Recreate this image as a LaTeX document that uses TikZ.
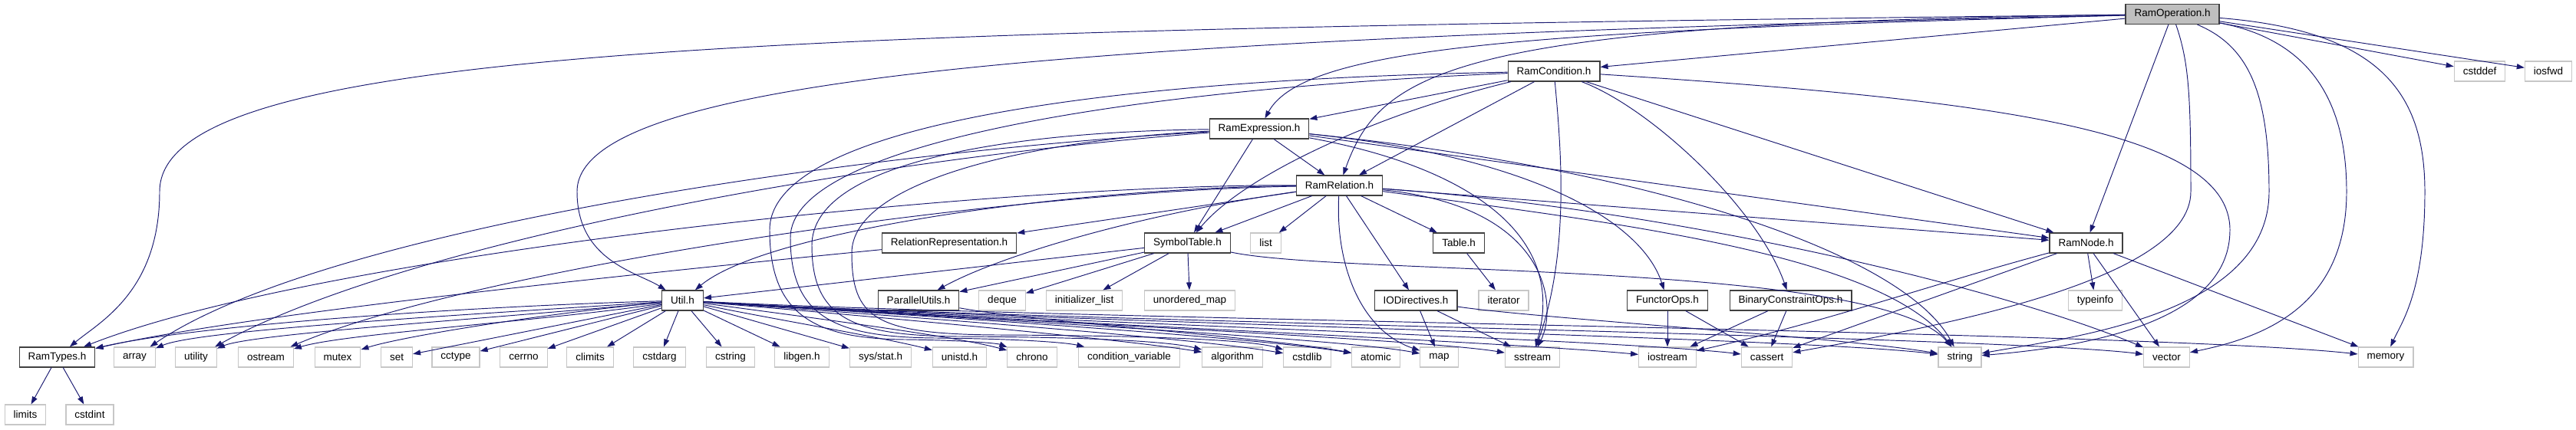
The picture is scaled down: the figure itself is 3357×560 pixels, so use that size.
\documentclass[tikz,border=0pt]{standalone}
\usepackage{fontspec}
\setmainfont{Liberation Sans}
\usepackage{xcolor}
\usetikzlibrary{arrows.meta}

\definecolor{edgeblue}{HTML}{191970}

\begin{document}
\begin{tikzpicture}[
  x=1pt, y=-1pt,
  header/.style={draw=black!75, line width=1.2pt, fill=white, minimum height=26pt, inner xsep=11.5pt, inner ysep=0pt, font=\fontsize{13.5}{16}\selectfont},
  syshdr/.style={header, draw=black!22},
  rootfile/.style={header, fill=black!25},
  line/.style={draw=edgeblue, line width=0.95pt, -{Triangle[length=10pt, width=7pt]}}
]
\useasboundingbox (0,0) rectangle (3357,560);

% Top node
\node (ramop) [rootfile] at (2831,18.5) {RamOperation.h};

% Project headers
\node (ramcond)  [header] at (2025,93)   {RamCondition.h};
\node (ramexpr)  [header] at (1641,168)  {RamExpression.h};
\node (ramrel)   [header] at (1745.5,242) {RamRelation.h};
\node (relrep)   [header] at (1237,317)  {RelationRepresentation.h};
\node (symtab)   [header] at (1547.5,317) {SymbolTable.h};
\node (table)    [header] at (1901,317)  {Table.h};
\node (ramnode)  [header] at (2718.5,317) {RamNode.h};
\node (util)     [header] at (889.5,392) {Util.h};
\node (parutils) [header] at (1197,392)  {ParallelUtils.h};
\node (iodir)    [header] at (1845,392)  {IODirectives.h};
\node (functor)  [header] at (2173,392)  {FunctorOps.h};
\node (binop)    [header] at (2333.5,392) {BinaryConstraintOps.h};
\node (ramtypes) [header] at (74.5,466)  {RamTypes.h};

% System headers
\node (cstddef)   [syshdr] at (3231.5,93) {cstddef};
\node (iosfwd)    [syshdr] at (3321,93)   {iosfwd};
\node (list)      [syshdr] at (1649.5,317) {list};
\node (deque)     [syshdr] at (1306,392)  {deque};
\node (initlist)  [syshdr] at (1413,392)  {initializer\_list};
\node (umap)      [syshdr] at (1550.5,392) {unordered\_map};
\node (iterator)  [syshdr] at (1959.5,392) {iterator};
\node (typeinfo)  [syshdr] at (2730.5,392) {typeinfo};
\node (array)     [syshdr] at (175.5,466) {array};
\node (utility)   [syshdr] at (255.5,466) {utility};
\node (ostream)   [syshdr] at (346.5,466) {ostream};
\node (mutex)     [syshdr] at (440,466)   {mutex};
\node (set)       [syshdr] at (517,466)   {set};
\node (cctype)    [syshdr] at (594,466)   {cctype};
\node (cerrno)    [syshdr] at (682.5,466) {cerrno};
\node (climits)   [syshdr] at (769,466)   {climits};
\node (cstdarg)   [syshdr] at (859.5,466) {cstdarg};
\node (cstring)   [syshdr] at (952,466)   {cstring};
\node (libgen)    [syshdr] at (1045,466)  {libgen.h};
\node (sysstat)   [syshdr] at (1147.5,466) {sys/stat.h};
\node (unistd)    [syshdr] at (1250.5,466) {unistd.h};
\node (chrono)    [syshdr] at (1345,466)  {chrono};
\node (condvar)   [syshdr] at (1471.5,466) {condition\_variable};
\node (algorithm) [syshdr] at (1606,466)  {algorithm};
\node (cstdlib)   [syshdr] at (1703.5,466) {cstdlib};
\node (atomic)    [syshdr] at (1793,466)  {atomic};
\node (map)       [syshdr] at (1875.5,466) {map};
\node (sstream)   [syshdr] at (1997,466)  {sstream};
\node (iostream)  [syshdr] at (2173,466)  {iostream};
\node (cassert)   [syshdr] at (2302.5,466) {cassert};
\node (string)    [syshdr] at (2554,466)  {string};
\node (vector)    [syshdr] at (2823.5,466) {vector};
\node (memory)    [syshdr] at (3109,466)  {memory};
\node (limits)    [syshdr] at (33,541)    {limits};
\node (cstdint)   [syshdr] at (117,541)   {cstdint};

% RamOperation.h
\draw [line] (ramop) -- (ramcond);
\draw [line] (ramop) .. controls (2000,40) and (1700,60) .. (ramexpr);
\draw [line] (ramop) .. controls (1900,30) and (1800,90) .. (ramrel);
\draw [line] (ramop) -- (ramnode);
\draw [line] (ramop) .. controls (1000,40) and (208,60) .. (208,250) .. controls (208,380) and (130,420) .. (ramtypes);
\draw [line] (ramop) .. controls (1400,50) and (752,100) .. (752,250) .. controls (752,340) and (830,355) .. (util);
\draw [line] (ramop) -- (cstddef);
\draw [line] (ramop) -- (iosfwd);
\draw [line] (ramop) .. controls (2852,80) and (2855,120) .. (2855,250) .. controls (2855,370) and (2500,430) .. (cassert);
\draw [line] (ramop) .. controls (2930,60) and (2957,120) .. (2957,250) .. controls (2957,410) and (2700,440) .. (string);
\draw [line] (ramop) .. controls (3000,50) and (3058,120) .. (3058,250) .. controls (3058,400) and (2950,440) .. (vector);
\draw [line] (ramop) .. controls (3100,40) and (3160,120) .. (3160,250) .. controls (3160,380) and (3130,420) .. (memory);

% RamCondition.h
\draw [line] (ramcond) -- (ramexpr);
\draw [line] (ramcond) -- (ramrel);
\draw [line] (ramcond) -- (ramnode);
\draw [line] (ramcond) .. controls (1790,150) and (1620,230) .. (symtab);
\draw [line] (ramcond) .. controls (2150,140) and (2290,270) .. (binop);
\draw [line] (ramcond) .. controls (2035,200) and (2045,330) .. (sstream);
\draw [line] (ramcond) .. controls (2600,130) and (2906,170) .. (2906,300) .. controls (2906,410) and (2750,450) .. (string);
\draw [line] (ramcond) .. controls (1400,105) and (1003,170) .. (1003,300) .. controls (1003,410) and (1060,442) .. (1180,443) .. controls (1260,444) and (1300,448) .. (chrono);
\draw [line] (ramcond) .. controls (1450,118) and (1030,190) .. (1030,310) .. controls (1030,415) and (1090,440) .. (1220,441) .. controls (1330,442) and (1390,447) .. (condvar);

% RamExpression.h
\draw [line] (ramexpr) -- (ramrel);
\draw [line] (ramexpr) -- (symtab);
\draw [line] (ramexpr) -- (ramnode);
\draw [line] (ramexpr) .. controls (2000,205) and (2140,290) .. (functor);
\draw [line] (ramexpr) .. controls (1900,215) and (2045,300) .. (sstream);
\draw [line] (ramexpr) .. controls (2150,220) and (2480,330) .. (string);
\draw [line] (ramexpr) .. controls (1100,200) and (420,300) .. (array);
\draw [line] (ramexpr) .. controls (1100,210) and (520,320) .. (utility);
\draw [line] (ramexpr) .. controls (1300,172) and (1058,215) .. (1058,320) .. controls (1058,415) and (1110,438) .. (1250,439) .. controls (1450,440) and (1530,447) .. (algorithm);
\draw [line] (ramexpr) .. controls (1350,182) and (1110,235) .. (1110,330) .. controls (1110,415) and (1140,436) .. (1300,437) .. controls (1550,438) and (1640,446) .. (cstdlib);

% RamRelation.h
\draw [line] (ramrel) -- (symtab);
\draw [line] (ramrel) -- (list);
\draw [line] (ramrel) -- (table);
\draw [line] (ramrel) -- (iodir);
\draw [line] (ramrel) -- (relrep);
\draw [line] (ramrel) -- (ramnode);
\draw [line] (ramrel) .. controls (1480,280) and (1300,335) .. (parutils);
\draw [line] (ramrel) .. controls (1400,245) and (1000,300) .. (util);
\draw [line] (ramrel) .. controls (1300,240) and (420,330) .. (ramtypes);
\draw [line] (ramrel) .. controls (1300,250) and (620,350) .. (ostream);
\draw [line] (ramrel) .. controls (1740,340) and (1770,430) .. (map);
\draw [line] (ramrel) .. controls (2020,270) and (2030,400) .. (sstream);
\draw [line] (ramrel) .. controls (2100,290) and (2450,330) .. (string);
\draw [line] (ramrel) .. controls (2200,275) and (2620,380) .. (vector);

% RelationRepresentation.h, SymbolTable.h, Table.h
\draw [line] (relrep) .. controls (800,360) and (320,410) .. (ramtypes);
\draw [line] (symtab) -- (util);
\draw [line] (symtab) -- (parutils);
\draw [line] (symtab) -- (deque);
\draw [line] (symtab) -- (initlist);
\draw [line] (symtab) -- (umap);
\draw [line] (symtab) .. controls (1750,360) and (2450,340) .. (string);
\draw [line] (table) -- (iterator);

% Util.h
\draw [line] (util) .. controls (600,400) and (250,425) .. (ramtypes);
\draw [line] (util) .. controls (620,410) and (260,430) .. (array);
\draw [line] (util) .. controls (650,415) and (330,435) .. (utility);
\draw [line] (util) .. controls (700,420) and (450,435) .. (ostream);
\draw [line] (util) .. controls (700,410) and (520,440) .. (mutex);
\draw [line] (util) -- (set);
\draw [line] (util) -- (cctype);
\draw [line] (util) -- (cerrno);
\draw [line] (util) -- (climits);
\draw [line] (util) -- (cstdarg);
\draw [line] (util) -- (cstring);
\draw [line] (util) -- (libgen);
\draw [line] (util) -- (sysstat);
\draw [line] (util) .. controls (1000,415) and (1150,440) .. (unistd);
\draw [line] (util) .. controls (1100,420) and (1250,440) .. (chrono);
\draw [line] (util) .. controls (1200,418) and (1480,445) .. (algorithm);
\draw [line] (util) .. controls (1250,418) and (1560,442) .. (cstdlib);
\draw [line] (util) .. controls (1300,418) and (1650,442) .. (atomic);
\draw [line] (util) .. controls (1300,418) and (1750,442) .. (map);
\draw [line] (util) .. controls (1300,418) and (1850,442) .. (sstream);
\draw [line] (util) .. controls (1300,418) and (1950,445) .. (iostream);
\draw [line] (util) .. controls (1300,418) and (2100,442) .. (cassert);
\draw [line] (util) .. controls (1300,418) and (2350,440) .. (string);
\draw [line] (util) .. controls (1300,418) and (2600,438) .. (vector);
\draw [line] (util) .. controls (1400,418) and (2800,432) .. (memory);

% ParallelUtils.h, IODirectives.h
\draw [line] (parutils) .. controls (1350,420) and (1650,440) .. (atomic);
\draw [line] (iodir) -- (map);
\draw [line] (iodir) -- (sstream);
\draw [line] (iodir) .. controls (2000,415) and (2400,440) .. (string);

% FunctorOps.h, BinaryConstraintOps.h
\draw [line] (functor) -- (iostream);
\draw [line] (functor) -- (cassert);
\draw [line] (binop) -- (iostream);
\draw [line] (binop) -- (cassert);

% RamNode.h
\draw [line] (ramnode) -- (typeinfo);
\draw [line] (ramnode) -- (vector);
\draw [line] (ramnode) -- (memory);
\draw [line] (ramnode) .. controls (2520,370) and (2380,420) .. (iostream);
\draw [line] (ramnode) -- (cassert);

% RamTypes.h
\draw [line] (ramtypes) -- (limits);
\draw [line] (ramtypes) -- (cstdint);

\end{tikzpicture}
\end{document}
